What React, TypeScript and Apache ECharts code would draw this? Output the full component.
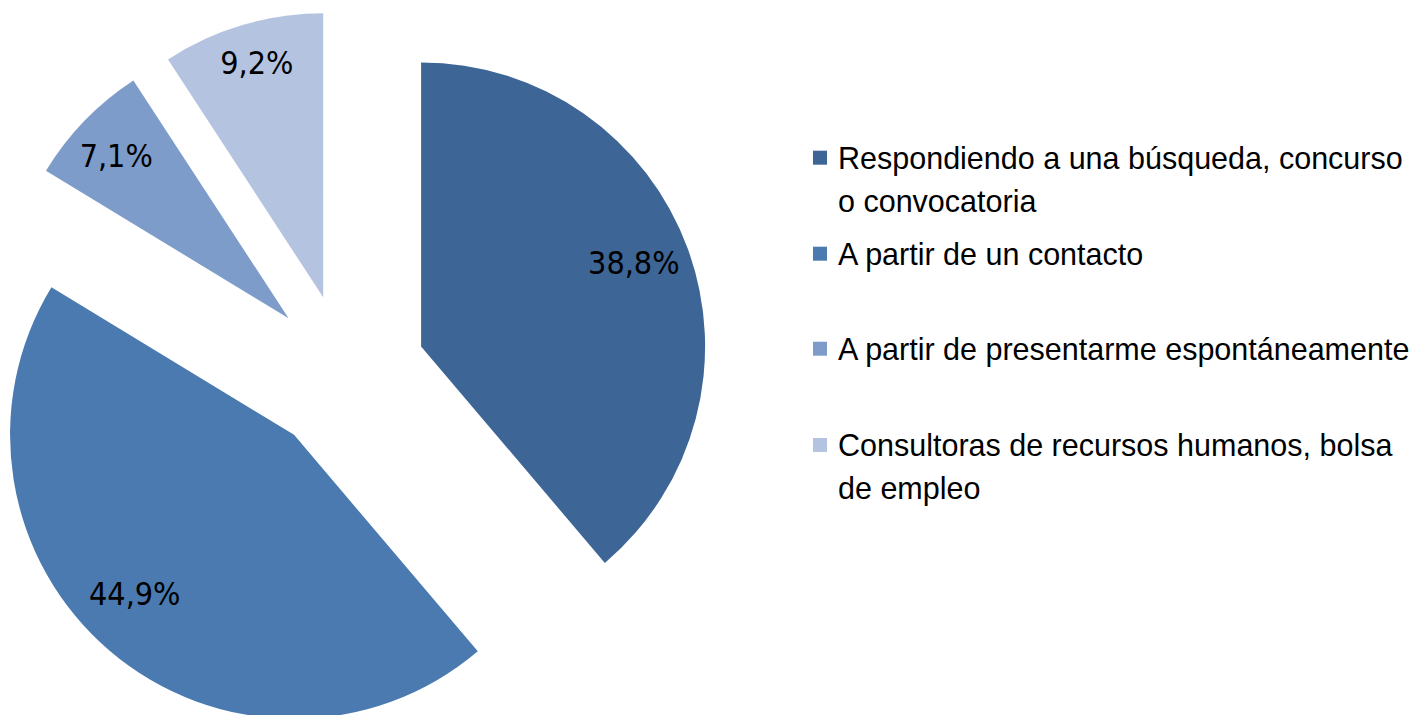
import React, { useEffect, useRef } from 'react';
import * as echarts from 'echarts';

const categories: string[] = [
  'Respondiendo a una búsqueda, concurso o convocatoria',
  'A partir de un contacto',
  'A partir de presentarme espontáneamente',
  'Consultoras de recursos humanos, bolsa de empleo',
];
// legend text as wrapped in the original
const legendLines: string[][] = [
  ['Respondiendo a una búsqueda, concurso', 'o convocatoria'],
  ['A partir de un contacto'],
  ['A partir de presentarme espontáneamente'],
  ['Consultoras de recursos humanos, bolsa', 'de empleo'],
];
const values: number[] = [38.8, 44.9, 7.1, 9.2];
const colors: string[] = ['#3D6596', '#4A7AB0', '#7E9CC9', '#B4C4E0'];

// icon centre of each legend entry (px from top)
const legendIconCenters: number[] = [157.7, 253.7, 348.7, 445];
const LINE_H = 43;
// small nudges of the data labels (best-fit placement in the original)
const labelNudge: [number, number][] = [[-6, -3], [-8, -18], [-5, 0], [0, -11]];

const CENTER: [number, number] = [346, 374];
const RADIUS = 284;
const EXPLODE = 80;

const fmt = (v: number) => v.toFixed(1).replace('.', ',') + '%';

export default function App() {
  const ref = useRef<HTMLDivElement>(null);
  useEffect(() => {
    if (!ref.current) return;
    const chart = echarts.init(ref.current, undefined, { renderer: 'svg' });
    const option: any = {
      animation: false,
      backgroundColor: '#ffffff',
      legend: categories.map((n, i) => {
        const lines = legendLines[i];
        // multi-line entries: a blank leading line keeps the first line level with the icon
        const text = lines.length > 1 ? '\n' + lines.join('\n') : lines[0];
        const nLines = lines.length > 1 ? lines.length + 1 : 1;
        return {
          data: [{ name: n, itemStyle: { color: colors[i] } }],
          formatter: () => text,
          orient: 'vertical',
          left: 813,
          top: legendIconCenters[i] - (nLines * LINE_H) / 2,
          padding: 0,
          icon: 'path://M0,0h10v10h-10z',
          symbolKeepAspect: true,
          itemWidth: 26,
          itemHeight: 14,
          selectedMode: false,
          textStyle: {
            fontSize: 30.5,
            lineHeight: LINE_H,
            color: '#000',
            fontFamily: '"Liberation Sans", Arial, sans-serif',
          },
        };
      }),
      series: [
        {
          type: 'pie',
          center: CENTER,
          radius: [0, RADIUS],
          startAngle: 90,
          clockwise: true,
          selectedMode: 'multiple',
          selectedOffset: EXPLODE,
          avoidLabelOverlap: false,
          label: { show: false },
          labelLine: { show: false },
          emphasis: { disabled: true },
          itemStyle: { borderWidth: 0 },
          select: { itemStyle: { borderWidth: 0 } },
          data: categories.map((n, i) => ({
            name: n,
            value: values[i],
            selected: true,
            itemStyle: { color: colors[i] },
            select: { itemStyle: { color: colors[i], borderWidth: 0 } },
          })),
        },
        {
          type: 'pie',
          center: CENTER,
          radius: [176, RADIUS],
          startAngle: 90,
          clockwise: true,
          silent: true,
          selectedMode: 'multiple',
          selectedOffset: EXPLODE,
          avoidLabelOverlap: false,
          itemStyle: { color: 'transparent', borderWidth: 0 },
          select: { itemStyle: { color: 'transparent', borderWidth: 0 } },
          emphasis: { disabled: true },
          label: {
            show: true,
            position: 'inside',
            color: '#000',
            fontSize: 32,
            fontFamily: '"Liberation Sans Narrow", "Arial Narrow", "DejaVu Sans Condensed", sans-serif',
            formatter: (p: any) => fmt(p.value),
          },
          labelLayout: (p: any) => ({
            dx: labelNudge[p.dataIndex][0],
            dy: labelNudge[p.dataIndex][1],
          }),
          labelLine: { show: false },
          data: categories.map((n, i) => ({
            name: n,
            value: values[i],
            selected: true,
          })),
        },
      ],
    };
    chart.setOption(option);
    return () => chart.dispose();
  }, []);
  return (
    <div
      ref={ref}
      style={{ position: 'fixed', left: 0, top: 0, width: 1414, height: 715 }}
    />
  );
}
